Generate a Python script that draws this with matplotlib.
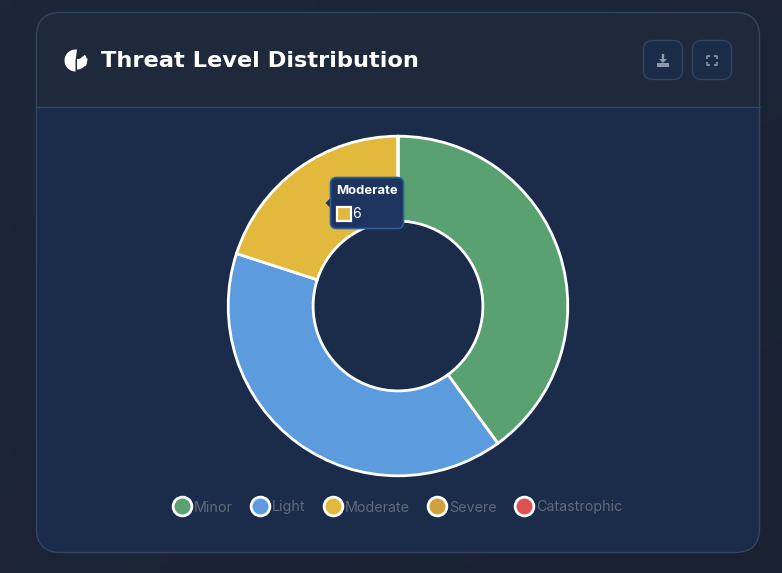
import numpy as np
import matplotlib
matplotlib.use("Agg")
import matplotlib.pyplot as plt
from matplotlib.patches import FancyBboxPatch, Rectangle, Wedge, Polygon, Circle
from matplotlib.lines import Line2D

title = "Threat Level Distribution"
categories = ["Minor", "Light", "Moderate", "Severe", "Catastrophic"]
values = [12, 12, 6, 0, 0]
colors = ["#5aa172", "#5b9bde", "#e2b93d", "#d1a040", "#e05252"]
W, H = 782, 573

fig = plt.figure(figsize=(W / 100, H / 100), dpi=100)
bg = fig.add_axes([0, 0, 1, 1])
bg.set_xlim(0, W)
bg.set_ylim(H, 0)
bg.axis("off")

# page background
grad = np.linspace(0, 1, 64)[None, :] * 0.5 + np.linspace(0, 1, 64)[:, None] * 0.5
c0, c1 = np.array([0x1c, 0x27, 0x3a]), np.array([0x18, 0x22, 0x33])
img = c0[None, None, :] * (1 - grad[..., None]) + c1[None, None, :] * grad[..., None]
bg.imshow(img.astype(np.uint8), extent=(0, W, H, 0), aspect="auto", zorder=0)

# card
L, T, R, B, rad = 36.5, 12.5, 759.5, 552.5, 24
clip = FancyBboxPatch((L, T), R - L, B - T, boxstyle=f"round,pad=0,rounding_size={rad}",
                      fc="#1a2c4a", ec="none", zorder=1)
bg.add_patch(clip)
head = Rectangle((L, T), R - L, 107 - T, fc="#1e293b", ec="none", zorder=2)
bg.add_patch(head)
head.set_clip_path(clip)
bg.plot([L, R], [107, 107], color="#33455f", lw=1, zorder=3)
bg.add_patch(FancyBboxPatch((L, T), R - L, B - T, boxstyle=f"round,pad=0,rounding_size={rad}",
                            fc="none", ec="#33455f", lw=1, zorder=4))

# title and icon
bg.text(101, 61, title, color="#ffffff", fontsize=16.2, fontweight="bold",
        family="DejaVu Sans", va="center", ha="left", zorder=5)
cx, cy = 76, 60
bg.add_patch(Wedge((cx - 0.5, cy + 0.5), 11, 90, 278, fc="white", ec="none", zorder=5))
bg.add_patch(Wedge((cx + 1, cy - 1), 10.5, -2, 90, fc="white", ec="none", zorder=5))
bg.add_patch(Wedge((cx + 1, cy + 1), 10, -38, -8, fc="white", ec="none", zorder=5))
bg.add_patch(Polygon([(cx + 1, cy + 2), (cx + 11, cy + 2), (cx + 10, cy + 6)], fc="white", ec="none", zorder=5))

# toolbar buttons
for x0 in (643.5, 692.5):
    bg.add_patch(FancyBboxPatch((x0, 40.5), 39, 39, boxstyle="round,pad=0,rounding_size=9",
                                fc="#1b2c49", ec="#33455f", lw=1, zorder=5))
ic = "#8d99ab"
bg.add_patch(Rectangle((657, 63), 12, 3.5, fc=ic, ec="none", zorder=6))
bg.add_patch(Polygon([(661.8, 54), (664.2, 54), (664.2, 59), (667, 59), (663, 63), (659, 59), (661.8, 59)],
                     fc=ic, ec="none", zorder=6))
fx0, fx1, fy0, fy1 = 707, 717, 55.5, 65
for (xa, xb, ya, yb) in [(fx0, fx0 + 3, fy0, fy0 + 3), (fx1, fx1 - 3, fy0, fy0 + 3),
                         (fx0, fx0 + 3, fy1, fy1 - 3), (fx1, fx1 - 3, fy1, fy1 - 3)]:
    bg.plot([xa, xa, xb], [yb, ya, ya], color=ic, lw=1.2, zorder=6, solid_capstyle="butt")

# donut
pcx, pcy, pr = 398, 306, 171.5
ax = fig.add_axes([(pcx - pr) / W, 1 - (pcy + pr) / H, 2 * pr / W, 2 * pr / H])
ax.set_zorder(2)
ax.pie(values, colors=colors, startangle=90, counterclock=False, radius=1.0,
       wedgeprops=dict(width=0.5, edgecolor="white", linewidth=2))
ax.set_xlim(-1.01, 1.01)
ax.set_ylim(-1.01, 1.01)
ax.set_aspect("equal")

# legend
handles = [Line2D([], [], ls="none", marker="o", markersize=13.5, markerfacecolor=c,
                  markeredgecolor="white", markeredgewidth=2) for c in colors]
leg = fig.legend(handles, categories, ncols=5, frameon=False, loc="center",
                 bbox_to_anchor=(395.5 / W, 1 - 507.5 / H), fontsize=10.3,
                 labelcolor="#5f6a7a", prop=dict(family="Inter", size=10.3),
                 handletextpad=-0.1, columnspacing=0.95, handlelength=1.9)
leg.set_zorder(3)

# tooltip overlay
fg = fig.add_axes([0, 0, 1, 1])
fg.set_zorder(5)
fg.set_xlim(0, W)
fg.set_ylim(H, 0)
fg.axis("off")
fg.patch.set_alpha(0)
fg.add_patch(Polygon([(325.5, 203), (331, 197.5), (331, 208.5)], fc="#1d3461", ec="none", zorder=2))
fg.add_patch(FancyBboxPatch((330.5, 177.5), 73, 51, boxstyle="round,pad=0,rounding_size=6",
                            fc="#1d3461", ec="#2f5f98", lw=1.2, zorder=3))
fg.text(336.5, 191.5, categories[2], color="white", fontsize=9.4, fontweight="bold",
        family="Inter", va="center", ha="left", zorder=4)
fg.add_patch(Rectangle((336.5, 207), 14, 14, fc=colors[2], ec="white", lw=1.6, zorder=4))
fg.text(352, 214.5, str(values[2]), color="white", fontsize=10, family="Inter",
        va="center", ha="left", zorder=4)

fig.savefig("out.png", dpi=100)
